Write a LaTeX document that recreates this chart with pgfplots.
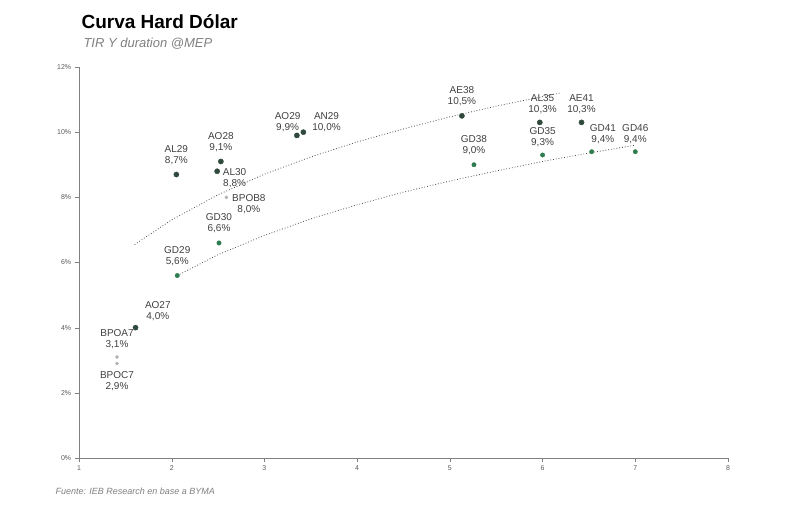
\documentclass[border=0pt]{standalone}
\usepackage{pgfplots}
\pgfplotsset{compat=1.18}
\usepackage{fontspec}
\setmainfont{Liberation Sans}
\definecolor{dk}{HTML}{2F4A3C}
\definecolor{gr}{HTML}{2E7D4F}
\begin{document}
\begin{tikzpicture}[x=1pt,y=1pt]
\useasboundingbox (0,0) rectangle (800,509);
\node[anchor=west,font=\fontsize{19}{20}\selectfont\bfseries] at (78,487) {Curva Hard Dólar};
\node[anchor=west,font=\fontsize{13}{14}\selectfont\itshape,text=gray] at (80,465) {TIR Y duration @MEP};
\node[anchor=west,font=\fontsize{9}{10}\selectfont\itshape,text=gray] at (52,18) {Fuente: IEB Research en base a BYMA};
\begin{axis}[at={(79pt,51pt)},anchor=origin,scale only axis,width=649pt,height=391pt,
 xmin=1,xmax=8,ymin=0,ymax=12,xtick={1,...,8},ytick={0,2,...,12},
 yticklabel={\pgfmathprintnumber{\tick}\%},
 axis x line=bottom,axis y line=left,axis line style={-,gray,thick},
 tick style={gray},tick align=outside,
 /pgf/number format/assume math mode=true,
 ticklabel style={font=\fontsize{7}{8}\selectfont,text=gray!70!black},
 clip=false]
\addplot[dotted,thick,gray!60!black] coordinates {(1.6,6.55)(2,7.31)(2.5,8.08)(3,8.71)(3.5,9.24)(4,9.70)(4.5,10.10)(5,10.47)(5.5,10.80)(6,11.09)(6.2,11.21)};
\addplot[dotted,thick,gray!60!black] coordinates {(2.06,5.6)(2.5,6.24)(3,6.83)(3.5,7.34)(4,7.77)(4.5,8.16)(5,8.50)(5.5,8.81)(6,9.10)(6.5,9.36)(7,9.60)};
\addplot[only marks,mark=*,mark size=2.6pt,dk] coordinates {(2.05,8.7)(2.53,9.1)(2.49,8.8)(3.35,9.9)(3.42,10.0)(5.13,10.5)(5.97,10.3)(6.42,10.3)(1.61,4.0)};
\addplot[only marks,mark=*,mark size=2.2pt,gr] coordinates {(2.06,5.6)(2.51,6.6)(5.26,9.0)(6.0,9.3)(6.53,9.4)(7.0,9.4)};
\addplot[only marks,mark=*,mark size=1.6pt,gray!60] coordinates {(2.59,8.0)(1.41,3.1)(1.41,2.9)};
\begin{scope}[every node/.style={font=\fontsize{10}{11}\selectfont,text=gray!50!black,align=center,inner sep=0pt}]
\node[anchor=south] at (axis cs:2.05,9.0) {AL29\\8,7\%};
\node[anchor=south] at (axis cs:2.53,9.4) {AO28\\9,1\%};
\node[anchor=west] at (axis cs:2.55,8.6) {AL30\\8,8\%};
\node[anchor=west] at (axis cs:2.65,7.8) {BPOB8\\8,0\%};
\node[anchor=south] at (axis cs:2.51,6.9) {GD30\\6,6\%};
\node[anchor=south] at (axis cs:2.06,5.9) {GD29\\5,6\%};
\node[anchor=south] at (axis cs:1.85,4.2) {AO27\\4,0\%};
\node[anchor=south] at (axis cs:1.41,3.35) {BPOA7\\3,1\%};
\node[anchor=north] at (axis cs:1.41,2.65) {BPOC7\\2,9\%};
\node[anchor=south] at (axis cs:3.25,10.0) {AO29\\9,9\%};
\node[anchor=south] at (axis cs:3.67,10.0) {AN29\\10,0\%};
\node[anchor=south] at (axis cs:5.13,10.8) {AE38\\10,5\%};
\node[anchor=south] at (axis cs:5.26,9.3) {GD38\\9,0\%};
\node[anchor=south] at (axis cs:6.0,10.55) {AL35\\10,3\%};
\node[anchor=south] at (axis cs:6.0,9.55) {GD35\\9,3\%};
\node[anchor=south] at (axis cs:6.42,10.55) {AE41\\10,3\%};
\node[anchor=south] at (axis cs:6.65,9.65) {GD41\\9,4\%};
\node[anchor=south] at (axis cs:7.0,9.65) {GD46\\9,4\%};
\end{scope}
\end{axis}
\end{tikzpicture}
\end{document}
